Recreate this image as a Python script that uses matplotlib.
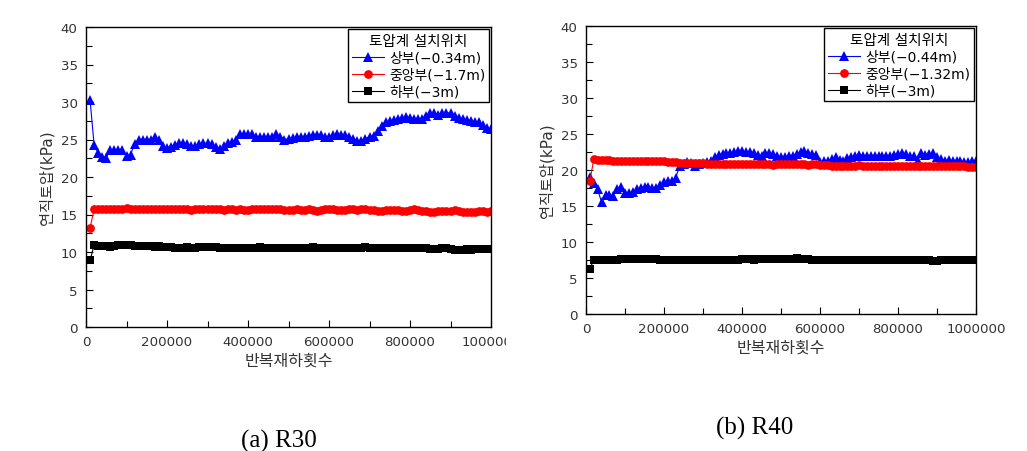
import matplotlib
matplotlib.use("Agg")
import matplotlib.pyplot as plt
from matplotlib.ticker import MultipleLocator
from matplotlib.transforms import Bbox, TransformedBbox

plt.rcParams['font.family'] = ['DejaVu Sans', 'Noto Sans CJK KR']

cycles = list(range(10000, 1000001, 10000))

# (a) R30
a_top = [30.3, 24.3, 23.2, 22.7, 22.6, 23.6, 23.6, 23.6, 23.6, 22.8,
         23.0, 24.4, 25.0, 25.0, 25.0, 25.0, 25.3, 24.9, 24.2, 23.9,
         24.0, 24.3, 24.5, 24.6, 24.4, 24.1, 24.1, 24.4, 24.5, 24.5,
         24.4, 24.0, 23.7, 24.1, 24.6, 24.7, 25.0, 25.8, 25.8, 25.8,
         25.8, 25.3, 25.3, 25.3, 25.4, 25.3, 25.7, 25.4, 25.0, 25.1,
         25.2, 25.3, 25.4, 25.4, 25.5, 25.6, 25.6, 25.6, 25.4, 25.4,
         25.6, 25.7, 25.6, 25.6, 25.4, 25.1, 24.8, 24.8, 25.1, 25.4,
         25.5, 26.2, 26.8, 27.3, 27.5, 27.6, 27.7, 27.9, 28.0, 27.9,
         27.8, 27.7, 27.7, 28.2, 28.6, 28.5, 28.3, 28.5, 28.6, 28.5,
         28.2, 27.9, 27.7, 27.6, 27.5, 27.4, 27.3, 27.0, 26.6, 26.4]
a_mid = [13.2, 15.7, 15.8, 15.8, 15.8, 15.7, 15.8, 15.8, 15.8, 15.9,
         15.8, 15.7, 15.8, 15.8, 15.7, 15.8, 15.8, 15.7, 15.7, 15.8,
         15.7, 15.7, 15.8, 15.7, 15.7, 15.6, 15.7, 15.7, 15.7, 15.7,
         15.7, 15.7, 15.7, 15.6, 15.7, 15.7, 15.6, 15.7, 15.6, 15.6,
         15.7, 15.7, 15.7, 15.7, 15.7, 15.7, 15.8, 15.7, 15.6, 15.6,
         15.6, 15.7, 15.6, 15.6, 15.7, 15.6, 15.5, 15.6, 15.7, 15.7,
         15.7, 15.6, 15.6, 15.6, 15.7, 15.7, 15.6, 15.7, 15.7, 15.6,
         15.6, 15.5, 15.5, 15.6, 15.6, 15.6, 15.6, 15.5, 15.5, 15.6,
         15.7, 15.6, 15.5, 15.5, 15.3, 15.4, 15.5, 15.5, 15.5, 15.5,
         15.6, 15.5, 15.4, 15.4, 15.4, 15.4, 15.5, 15.5, 15.4, 15.5]
a_bot = [8.9, 10.9, 10.8, 10.8, 10.8, 10.7, 10.8, 11.0, 10.9, 10.9,
         10.9, 10.8, 10.8, 10.8, 10.8, 10.8, 10.7, 10.8, 10.7, 10.7,
         10.7, 10.6, 10.6, 10.6, 10.7, 10.6, 10.6, 10.7, 10.7, 10.7,
         10.7, 10.7, 10.6, 10.6, 10.6, 10.6, 10.6, 10.5, 10.5, 10.6,
         10.6, 10.6, 10.7, 10.6, 10.6, 10.6, 10.6, 10.6, 10.5, 10.5,
         10.5, 10.6, 10.5, 10.6, 10.6, 10.7, 10.6, 10.6, 10.6, 10.6,
         10.6, 10.6, 10.6, 10.6, 10.6, 10.6, 10.6, 10.6, 10.7, 10.6,
         10.6, 10.5, 10.5, 10.5, 10.6, 10.6, 10.6, 10.5, 10.5, 10.5,
         10.5, 10.6, 10.5, 10.5, 10.4, 10.4, 10.4, 10.5, 10.5, 10.4,
         10.3, 10.3, 10.3, 10.4, 10.3, 10.4, 10.4, 10.4, 10.4, 10.4]

# (b) R40
b_top = [19.0, 18.2, 17.3, 15.5, 16.5, 16.5, 16.4, 17.3, 17.6, 16.8,
         16.8, 17.0, 17.3, 17.5, 17.7, 17.7, 17.5, 17.5, 17.9, 18.3,
         18.5, 18.5, 18.9, 20.6, 20.9, 21.1, 21.0, 20.6, 20.8, 21.0,
         21.1, 21.3, 21.8, 22.1, 22.2, 22.3, 22.4, 22.5, 22.6, 22.6,
         22.5, 22.5, 22.4, 22.1, 22.0, 22.3, 22.4, 22.2, 22.0, 21.8,
         21.8, 22.0, 21.9, 22.2, 22.5, 22.7, 22.4, 22.2, 22.1, 21.1,
         21.3, 21.3, 21.5, 21.8, 21.4, 21.3, 21.6, 21.8, 21.9, 22.1,
         22.0, 21.9, 21.9, 21.9, 22.0, 22.0, 21.9, 22.0, 22.1, 22.2,
         22.3, 22.2, 21.9, 22.0, 21.2, 22.3, 22.1, 22.2, 22.3, 21.8,
         21.5, 21.3, 21.4, 21.3, 21.2, 21.2, 21.1, 21.1, 21.2, 21.2]
b_mid = [18.5, 21.5, 21.4, 21.4, 21.4, 21.4, 21.3, 21.3, 21.2, 21.3,
         21.2, 21.2, 21.2, 21.2, 21.2, 21.2, 21.3, 21.2, 21.2, 21.2,
         21.1, 21.1, 21.1, 21.0, 21.0, 21.0, 21.0, 21.0, 21.0, 21.0,
         20.9, 20.8, 20.8, 20.8, 20.9, 20.9, 20.9, 20.9, 20.8, 20.9,
         20.9, 20.8, 20.8, 20.9, 20.8, 20.8, 20.8, 20.7, 20.8, 20.8,
         20.8, 20.8, 20.8, 20.8, 20.8, 20.8, 20.7, 20.8, 20.8, 20.7,
         20.7, 20.7, 20.6, 20.6, 20.6, 20.6, 20.6, 20.6, 20.6, 20.7,
         20.6, 20.5, 20.5, 20.6, 20.5, 20.5, 20.5, 20.5, 20.5, 20.6,
         20.6, 20.5, 20.5, 20.6, 20.6, 20.5, 20.6, 20.6, 20.6, 20.5,
         20.6, 20.5, 20.6, 20.5, 20.5, 20.5, 20.5, 20.4, 20.4, 20.4]
b_bot = [6.3, 7.5, 7.5, 7.5, 7.5, 7.5, 7.5, 7.5, 7.6, 7.6,
         7.6, 7.6, 7.6, 7.6, 7.6, 7.6, 7.6, 7.6, 7.5, 7.5,
         7.5, 7.5, 7.5, 7.5, 7.5, 7.5, 7.5, 7.5, 7.5, 7.5,
         7.5, 7.5, 7.5, 7.5, 7.5, 7.5, 7.5, 7.5, 7.5, 7.6,
         7.6, 7.6, 7.5, 7.6, 7.6, 7.6, 7.6, 7.6, 7.6, 7.6,
         7.6, 7.6, 7.7, 7.8, 7.6, 7.6, 7.6, 7.5, 7.5, 7.5,
         7.5, 7.5, 7.5, 7.5, 7.5, 7.5, 7.5, 7.5, 7.5, 7.5,
         7.5, 7.5, 7.5, 7.5, 7.5, 7.5, 7.5, 7.5, 7.5, 7.5,
         7.5, 7.5, 7.5, 7.5, 7.5, 7.5, 7.5, 7.5, 7.4, 7.4,
         7.5, 7.5, 7.5, 7.5, 7.5, 7.5, 7.5, 7.5, 7.5, 7.5]

a_labels = ['상부(−0.34m)', '중앙부(−1.7m)', '하부(−3m)']
b_labels = ['상부(−0.44m)', '중앙부(−1.32m)', '하부(−3m)']
legend_title = '토압계 설치위치'
xlabel = '반복재하횟수'
ylabel = '연직토압(kPa)'
captions = ['(a) R30', '(b) R40']

fig = plt.figure(figsize=(10.27, 4.52), dpi=100)
W, H = 1027, 452
ax1 = fig.add_axes([86 / W, 1 - 328 / H, 405 / W, 300 / H])
ax2 = fig.add_axes([586 / W, 1 - 315 / H, 390 / W, 288 / H])

styles = [dict(color='#0000ff', marker='^', ms=7),
          dict(color='#ff0000', marker='o', ms=6.3),
          dict(color='#000000', marker='s', ms=5.8)]

for ax, series, labels in [(ax1, [a_top, a_mid, a_bot], a_labels),
                           (ax2, [b_top, b_mid, b_bot], b_labels)]:
    for vals, st, lab in zip(series, styles, labels):
        ax.plot(cycles, vals, color=st['color'], marker=st['marker'],
                markersize=st['ms'], lw=0.8, label=lab, markeredgewidth=0)
    ax.set_xlim(0, 1000000)
    ax.set_ylim(0, 40)
    ax.xaxis.set_major_locator(MultipleLocator(200000))
    ax.xaxis.set_minor_locator(MultipleLocator(100000))
    ax.yaxis.set_major_locator(MultipleLocator(5))
    ax.yaxis.set_minor_locator(MultipleLocator(2.5))
    ax.tick_params(which='both', direction='in', top=False, right=False,
                   labelsize=9.6, labelcolor='#333333')
    ax.tick_params(which='major', length=5, width=0.8, pad=6)
    ax.tick_params(which='minor', length=4, width=0.8)
    ax.ticklabel_format(style='plain', axis='x', useOffset=False)
    for s in ax.spines.values():
        s.set_linewidth(1.0)
    ax.set_xlabel(xlabel, fontsize=11.5, color='#333333', labelpad=3)
    ax.set_ylabel(ylabel, fontsize=11, color='#333333', labelpad=4)
    leg = ax.legend(title=legend_title, loc='upper right', fontsize=10,
                    title_fontsize=10.5, frameon=True, fancybox=False,
                    edgecolor='black', framealpha=1, handlelength=2.3,
                    borderaxespad=0.15, borderpad=0.25, labelspacing=0.22,
                    handletextpad=0.4)
    leg.get_frame().set_linewidth(1.0)

fig.canvas.draw()
# the right-most x label of (a) is cut off in the original
clipbox = TransformedBbox(Bbox([[0, 0], [506 / W, 1]]), fig.transFigure)
for lab in ax1.get_xticklabels():
    lab.set_clip_box(clipbox)
    lab.set_clip_on(True)

fig.text(279 / W, 1 - 441 / H, captions[0], ha='center', va='center',
         fontsize=18, family='Liberation Serif')
fig.text(755 / W, 1 - 428 / H, captions[1], ha='center', va='center',
         fontsize=18, family='Liberation Serif')

fig.savefig('out.png', dpi=100)
